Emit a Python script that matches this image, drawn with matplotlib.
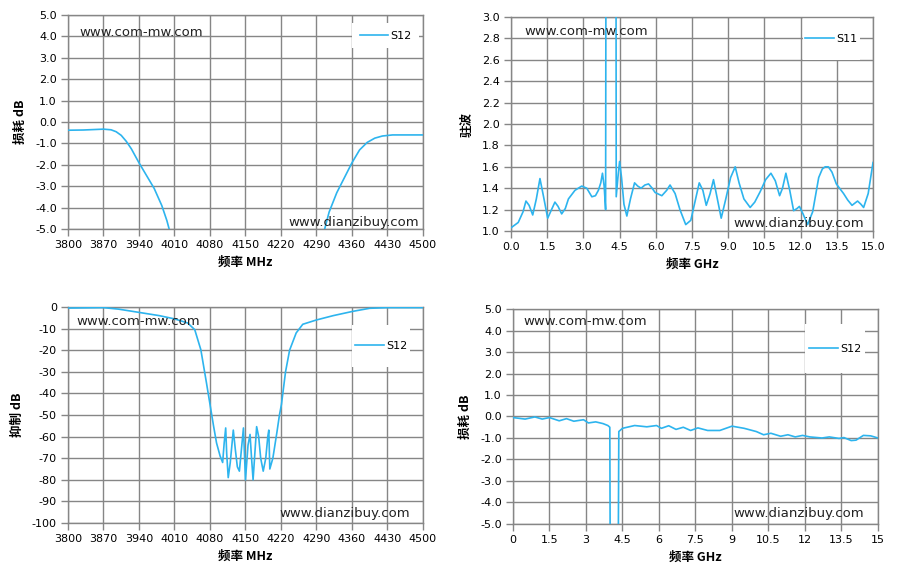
import numpy as np
import matplotlib
matplotlib.use("Agg")
import matplotlib.pyplot as plt
from matplotlib.patches import Rectangle

plt.rcParams['font.family'] = ['DejaVu Sans']
plt.rcParams['axes.unicode_minus'] = False
CJK = ['Noto Sans CJK SC', 'DejaVu Sans']

LINE = '#2DB4EE'
GRID = '#868686'

# top-left: pass band loss, MHz
tl_freq = [3800, 3830, 3870, 3885, 3895, 3905, 3915, 3925, 3940, 3955, 3970,
           3985, 3995, 4003, 4010, 4300, 4305, 4315, 4330, 4345, 4360, 4375,
           4390, 4405, 4420, 4440, 4470, 4500]
tl_loss = [-0.38, -0.37, -0.33, -0.36, -0.45, -0.62, -0.9, -1.25, -1.9, -2.5,
           -3.1, -3.9, -4.6, -5.3, -8.0, -8.0, -5.1, -4.2, -3.3, -2.6, -1.9,
           -1.3, -0.95, -0.75, -0.65, -0.6, -0.6, -0.6]

# top-right: VSWR, GHz
tr_freq = [0.0, 0.3, 0.5, 0.62, 0.75, 0.9, 1.05, 1.2, 1.35, 1.52, 1.68, 1.82,
           1.95, 2.1, 2.25, 2.38, 2.65, 2.93, 3.14, 3.35, 3.5, 3.62, 3.72,
           3.79, 3.86, 3.92, 3.97, 4.33, 4.36, 4.43, 4.5, 4.58, 4.68, 4.8,
           4.95, 5.12, 5.25, 5.39, 5.55, 5.7, 5.85, 5.97, 6.25, 6.45, 6.59,
           6.8, 7.0, 7.24, 7.45, 7.65, 7.8, 7.95, 8.09, 8.25, 8.39, 8.55,
           8.71, 8.9, 9.1, 9.29, 9.45, 9.65, 9.91, 10.1, 10.33, 10.55, 10.77,
           10.95, 11.13, 11.25, 11.39, 11.55, 11.71, 11.85, 11.95, 12.1,
           12.29, 12.5, 12.75, 12.9, 13.02, 13.15, 13.3, 13.48, 13.78, 13.95,
           14.13, 14.36, 14.5, 14.61, 14.8, 15.0]
tr_vswr = [1.03, 1.08, 1.18, 1.28, 1.24, 1.15, 1.3, 1.49, 1.32, 1.12, 1.2,
           1.27, 1.23, 1.16, 1.21, 1.3, 1.38, 1.42, 1.4, 1.32, 1.33, 1.38, 1.45,
           1.54, 1.42, 1.2, 9.0, 9.0, 1.32, 1.5, 1.65, 1.5, 1.25, 1.14, 1.3,
           1.45, 1.42, 1.4, 1.43, 1.44, 1.4, 1.36, 1.33, 1.38, 1.43, 1.35,
           1.2, 1.06, 1.1, 1.3, 1.45, 1.38, 1.24, 1.35, 1.48, 1.3, 1.12, 1.3,
           1.5, 1.6, 1.45, 1.3, 1.22, 1.27, 1.37, 1.48, 1.54, 1.47, 1.33,
           1.4, 1.54, 1.38, 1.19, 1.21, 1.23, 1.16, 1.06, 1.18, 1.5, 1.58, 1.6,
           1.6, 1.55, 1.44, 1.35, 1.29, 1.24, 1.28, 1.25, 1.22, 1.35, 1.64]

# bottom-left: rejection, MHz
bl_freq = [3800, 3870, 3900, 3940, 3980, 4010, 4036, 4050, 4062, 4073, 4080,
           4087, 4093, 4100, 4105, 4108, 4111, 4113, 4116, 4120, 4126, 4130,
           4134, 4138, 4142, 4146, 4150, 4155, 4159, 4162, 4165, 4169, 4172,
           4176, 4180, 4185, 4190, 4194, 4196, 4198, 4204, 4212, 4217, 4221,
           4229, 4237, 4250, 4263, 4290, 4323, 4362, 4395, 4430, 4500]
bl_rej = [-0.5, -0.3, -1.0, -2.5, -4.0, -5.5, -7.4, -10.5, -19.8, -35, -45,
          -55, -63, -69, -72, -63, -56, -68, -79, -72, -57, -66, -74, -76,
          -66, -56, -80, -64, -59, -70, -80, -66, -55.4, -60, -70, -76, -70,
          -60, -57, -75, -70, -58, -50, -45, -30, -20, -12, -8, -6, -4, -2,
          -0.6, -0.3, -0.3]

# bottom-right: wideband loss, GHz
br_freq = [0.0, 0.5, 0.9, 1.2, 1.5, 1.9, 2.2, 2.5, 2.9, 3.1, 3.4, 3.7, 3.9,
           3.98, 4.0, 4.32, 4.35, 4.5, 5.0, 5.5, 5.9, 6.1, 6.4, 6.7, 7.0, 7.3,
           7.6, 8.0, 8.5, 9.0, 9.5, 10.0, 10.3, 10.6, 11.0, 11.3, 11.6, 11.9,
           12.2, 12.7, 13.0, 13.4, 13.6, 13.9, 14.1, 14.4, 14.7, 15.0]
br_loss = [-0.05, -0.12, -0.02, -0.12, -0.05, -0.2, -0.1, -0.22, -0.15, -0.3,
           -0.25, -0.33, -0.42, -0.5, -8.0, -8.0, -0.7, -0.55, -0.42, -0.48,
           -0.42, -0.55, -0.43, -0.6, -0.5, -0.65, -0.53, -0.65, -0.65, -0.45,
           -0.55, -0.7, -0.85, -0.78, -0.92, -0.85, -0.95, -0.88, -0.95, -1.0,
           -0.95, -1.02, -0.98, -1.12, -1.1, -0.88, -0.9, -1.0]

MHZ_TICKS = [3800, 3870, 3940, 4010, 4080, 4150, 4220, 4290, 4360, 4430, 4500]
LOSS_TICKS = [5, 4, 3, 2, 1, 0, -1, -2, -3, -4, -5]
GHZ_TICKS = [0, 1.5, 3, 4.5, 6, 7.5, 9, 10.5, 12, 13.5, 15]
GHZ_LABELS_TR = ['0.0', '1.5', '3.0', '4.5', '6.0', '7.5', '9.0', '10.5', '12.0', '13.5', '15.0']
GHZ_LABELS_BR = ['0', '1.5', '3', '4.5', '6', '7.5', '9', '10.5', '12', '13.5', '15']
VSWR_TICKS = [1.0, 1.2, 1.4, 1.6, 1.8, 2.0, 2.2, 2.4, 2.6, 2.8, 3.0]
REJ_TICKS = list(range(0, -101, -10))


def style_axes(ax, xlabel, ylabel):
    ax.set_axisbelow(True)
    ax.grid(True, color=GRID, linewidth=1.0)
    for sp in ax.spines.values():
        sp.set_color(GRID)
        sp.set_linewidth(1.0)
    ax.tick_params(direction='out', length=5, width=1.0, color=GRID,
                   labelsize=8, labelcolor='black', pad=3)
    ax.set_xlabel(xlabel, family=CJK, fontsize=9, fontweight='bold', labelpad=4)
    ax.set_ylabel(ylabel, family=CJK, fontsize=9, fontweight='bold', labelpad=6)


def add_marks(ax, line, name, box, left_y, right_y, left_x=0.03, right_x=0.985):
    ax.text(left_x, left_y, 'www.com-mw.com', transform=ax.transAxes,
            fontsize=9.5, va='center', ha='left', color='#222222')
    ax.text(right_x, right_y, 'www.dianzibuy.com', transform=ax.transAxes,
            fontsize=9.5, va='center', ha='right', color='#222222')
    x0, y0, x1, y1 = box
    ax.add_patch(Rectangle((x0, y0), x1 - x0, y1 - y0, transform=ax.transAxes,
                           facecolor='white', edgecolor='none', zorder=1.5))
    leg = ax.legend([line], [name], loc='center',
                    bbox_to_anchor=((x0 + x1) / 2, (y0 + y1) / 2),
                    frameon=False, fontsize=8, handlelength=2.6,
                    handletextpad=0.2, borderpad=0)
    leg.set_zorder(5)


fig = plt.figure(figsize=(8.99, 5.80), dpi=100)

# top-left
ax1 = fig.add_axes([0.0756, 0.605, 0.3949, 0.369])
l1, = ax1.plot(tl_freq, tl_loss, color=LINE, linewidth=1.2, zorder=3)
ax1.set_xlim(3800, 4500)
ax1.set_ylim(-5, 5)
ax1.set_xticks(MHZ_TICKS)
ax1.set_yticks(LOSS_TICKS)
ax1.set_yticklabels([f"{v:.1f}" for v in LOSS_TICKS])
style_axes(ax1, '频率 MHz', '损耗 dB')
add_marks(ax1, l1, 'S12', (0.80, 0.846, 0.99, 0.963), 0.92, 0.03, 0.031, 0.989)

# top-right
ax2 = fig.add_axes([0.5684, 0.6017, 0.4027, 0.369])
l2, = ax2.plot(tr_freq, tr_vswr, color=LINE, linewidth=1.2, zorder=3)
ax2.set_xlim(0, 15)
ax2.set_ylim(1.0, 3.0)
ax2.set_xticks(GHZ_TICKS)
ax2.set_xticklabels(GHZ_LABELS_TR)
ax2.set_yticks(VSWR_TICKS)
ax2.set_yticklabels([f"{v:.1f}" for v in VSWR_TICKS])
style_axes(ax2, '频率 GHz', '驻波')
add_marks(ax2, l2, 'S11', (0.807, 0.80, 0.964, 0.995), 0.93, 0.037, 0.036, 0.975)

# bottom-left
ax3 = fig.add_axes([0.0756, 0.0983, 0.3949, 0.3724])
l3, = ax3.plot(bl_freq, bl_rej, color=LINE, linewidth=1.2, zorder=3)
ax3.set_xlim(3800, 4500)
ax3.set_ylim(-100, 0)
ax3.set_xticks(MHZ_TICKS)
ax3.set_yticks(REJ_TICKS)
ax3.set_yticklabels([str(v) for v in REJ_TICKS])
style_axes(ax3, '频率 MHz', '抑制 dB')
add_marks(ax3, l3, 'S12', (0.80, 0.722, 0.963, 0.917), 0.935, 0.046, 0.025, 0.963)

# bottom-right
ax4 = fig.add_axes([0.5706, 0.0966, 0.406, 0.3706])
l4, = ax4.plot(br_freq, br_loss, color=LINE, linewidth=1.2, zorder=3)
ax4.set_xlim(0, 15)
ax4.set_ylim(-5, 5)
ax4.set_xticks(GHZ_TICKS)
ax4.set_xticklabels(GHZ_LABELS_BR)
ax4.set_yticks(LOSS_TICKS)
ax4.set_yticklabels([f"{v:.1f}" for v in LOSS_TICKS])
style_axes(ax4, '频率 GHz', '损耗 dB')
add_marks(ax4, l4, 'S12', (0.80, 0.702, 0.964, 0.93), 0.94, 0.051, 0.03, 0.962)

fig.savefig('out.png', dpi=100)
